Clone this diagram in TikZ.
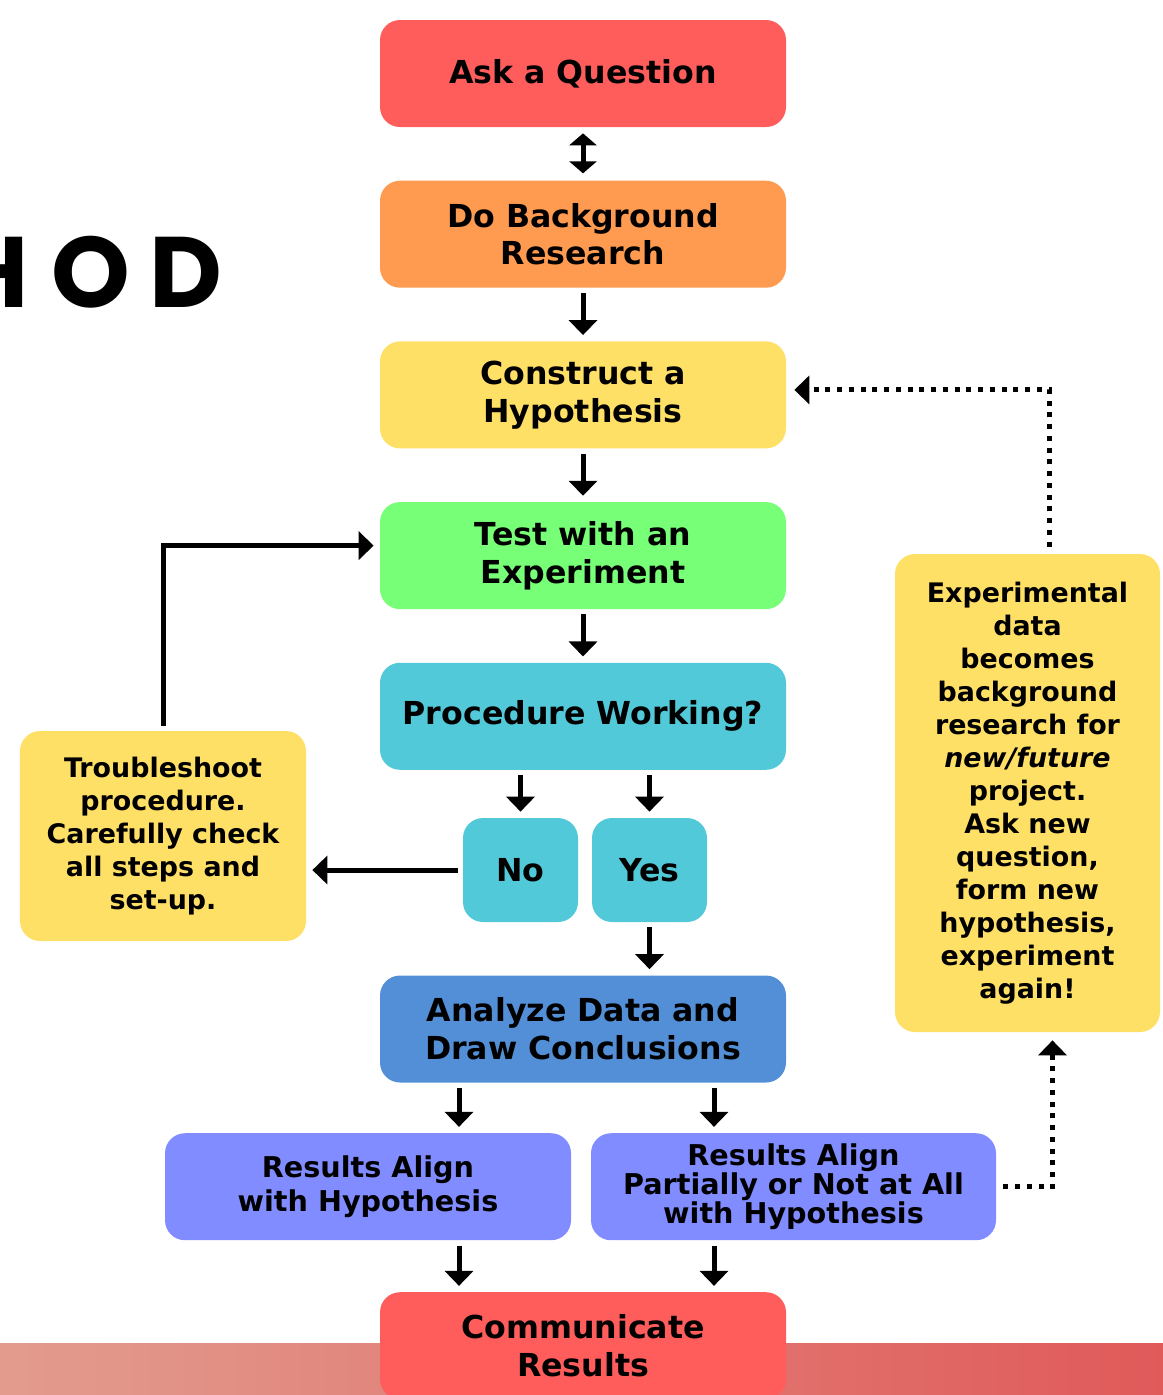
\documentclass[tikz,border=0pt]{standalone}
\usepackage{fontspec}
\setmainfont{DejaVu Sans}
\newfontfamily\titlefont{Poppins}
\usetikzlibrary{arrows.meta, positioning}
\definecolor{stepred}{RGB}{255,92,92}
\definecolor{steporange}{RGB}{255,155,80}
\definecolor{stepyellow}{RGB}{255,224,102}
\definecolor{stepgreen}{RGB}{119,255,119}
\definecolor{stepcyan}{RGB}{82,201,216}
\definecolor{stepblue}{RGB}{83,143,214}
\definecolor{stepviolet}{RGB}{128,140,255}
\definecolor{barleft}{RGB}{226,156,142}
\definecolor{barright}{RGB}{224,90,90}
\tikzset{
  stage/.style={rectangle, rounded corners=0.4cm, fill=#1, minimum width=8.12cm,
                minimum height=2.14cm, inner sep=0pt, align=center,
                font=\fontsize{18}{21.5}\selectfont\bfseries},
  choice/.style={stage=stepcyan, minimum width=2.3cm, minimum height=2.08cm},
  result/.style={stage=stepviolet, font=\fontsize{16.3}{19.3}\selectfont\bfseries},
  note/.style={rectangle, rounded corners=0.4cm, fill=stepyellow, inner sep=0pt,
               align=center, font=\fontsize{15.3}{18.8}\selectfont\bfseries},
  flow/.style={line width=0.1cm, -{Triangle[length=0.3cm, width=0.56cm]},
               shorten <=0.1cm, shorten >=0.12cm},
  both/.style={flow, {Triangle[length=0.24cm, width=0.54cm]}-{Triangle[length=0.24cm, width=0.54cm]},
               shorten <=0.12cm, shorten >=0.14cm},
  loop/.style={flow, dash pattern=on 0.1cm off 0.135cm, shorten <=0.14cm, shorten >=0.16cm},
  title/.style={inner sep=0pt, font=\fontsize{57}{57}\titlefont\bfseries}
}
\begin{document}
\begin{tikzpicture}[node distance=1.06cm]
  \useasboundingbox (0,0) rectangle (23.26,-27.9);
  \shade[left color=barleft, right color=barright] (0,-26.86) rectangle (23.26,-27.9);
  \node[title, anchor=base east] (hod) at (4.46,-6.14) {H\kern0.44cm O\kern0.4cm D};

  \node[stage=stepred] (ask) at (11.66,-1.47) {Ask a Question};
  \node[stage=steporange, below=of ask] (bg)   {Do Background\\Research};
  \node[stage=stepyellow, below=of bg]  (hyp)  {Construct a\\Hypothesis};
  \node[stage=stepgreen, below=of hyp]  (test) {Test with an\\Experiment};
  \node[stage=stepcyan, below=of test]  (proc) {Procedure Working?};
  \node[choice, below=0.95cm of proc, xshift=-1.25cm] (no)  {No};
  \node[choice, below=0.95cm of proc, xshift=1.33cm]  (yes) {Yes};
  \node[stage=stepblue, below=4.1cm of proc] (ana) {Analyze Data and\\Draw Conclusions};
  \node[result, below=1.0cm of ana, xshift=-4.3cm] (res1) {Results Align\\with Hypothesis};
  \node[result, below=1.0cm of ana, xshift=4.21cm, minimum width=8.1cm,
        font=\fontsize{16.3}{16.6}\selectfont\bfseries] (res2)
        {Results Align\\Partially or Not at All\\with Hypothesis};
  \node[stage=stepred, below=4.18cm of ana] (comm) {Communicate\\Results};

  \node[note, minimum width=5.72cm, minimum height=4.2cm] (trouble) at (3.26,-16.72)
        {Troubleshoot\\procedure.\\Carefully check\\all steps and\\set-up.};
  \node[note, minimum width=5.3cm, minimum height=9.56cm] (expdata) at (20.55,-15.86)
        {Experimental\\data\\becomes\\background\\research for\\\textit{new/future}\\project.\\Ask new\\question,\\form new\\hypothesis,\\experiment\\again!};

  \draw[both] (ask) -- (bg);
  \draw[flow] (bg) -- (hyp);
  \draw[flow] (hyp) -- (test);
  \draw[flow] (test) -- (proc);
  \draw[flow] (proc.south -| no) -- (no);
  \draw[flow] (proc.south -| yes) -- (yes);
  \draw[flow] (no) -- (trouble.east |- no);
  \draw[flow] (trouble) |- ([yshift=0.2cm]test.west);
  \draw[flow] (yes) -- (yes |- ana.north);
  \draw[flow] ([xshift=-2.48cm]ana.south) -- ([xshift=-2.48cm]ana.south |- res1.north);
  \draw[flow] ([xshift=2.62cm]ana.south) -- ([xshift=2.62cm]ana.south |- res2.north);
  \draw[flow] ([xshift=-2.48cm]comm.north |- res1.south) -- ([xshift=-2.48cm]comm.north);
  \draw[flow] ([xshift=2.62cm]comm.north |- res2.south) -- ([xshift=2.62cm]comm.north);
  \draw[loop] (res2) -| ([xshift=0.5cm]expdata.south);
  \draw[loop] ([xshift=0.44cm]expdata.north) |- ([yshift=0.1cm]hyp.east);
\end{tikzpicture}
\end{document}
